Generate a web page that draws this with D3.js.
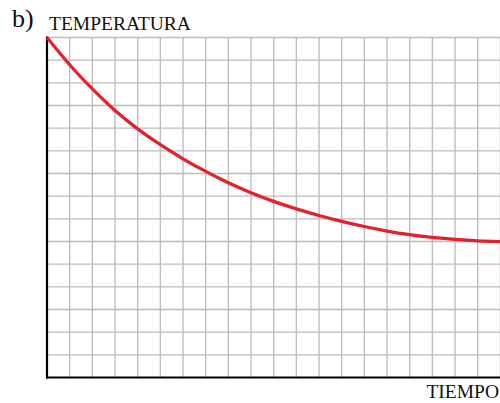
<!DOCTYPE html>
<html>
<head>
<meta charset="utf-8">
<script src="https://cdn.jsdelivr.net/npm/d3@7"></script>
<style>
  html, body { margin: 0; padding: 0; background: #fff; }
  svg { display: block; }
  text { font-family: "Liberation Serif", "DejaVu Serif", serif; fill: #111; }
</style>
</head>
<body>
<svg id="chart" width="500" height="403"></svg>
<script>
// Time in grid units (0–20) and temperature in grid units (0–15)
const tiempo = [0, 1, 2, 3, 4, 5, 6, 7, 8, 9, 10, 11, 12, 13, 14, 15, 16, 17, 18, 19, 20];
const temperatura = [15, 13.8, 12.73, 11.78, 10.97, 10.27, 9.65, 9.09, 8.59, 8.15, 7.77, 7.44, 7.15, 6.89, 6.66, 6.46, 6.30, 6.18, 6.09, 6.03, 6.0];
const gridCols = d3.range(0, 21);
const gridRows = d3.range(0, 16);

const svg = d3.select("#chart");
const x = d3.scaleLinear().domain([0, 20]).range([47, 500.4]);
const y = d3.scaleLinear().domain([0, 15]).range([377.5, 37.5]);

// grid
const grid = svg.append("g").attr("stroke", "#bdbdbd").attr("stroke-width", 1.4);
grid.selectAll("line.v").data(gridCols.slice(1)).join("line")
  .attr("class", "v")
  .attr("x1", d => x(d)).attr("x2", d => x(d))
  .attr("y1", y(15)).attr("y2", y(0));
grid.selectAll("line.h").data(gridRows.slice(1)).join("line")
  .attr("class", "h")
  .attr("x1", x(0)).attr("x2", x(20))
  .attr("y1", d => y(d)).attr("y2", d => y(d));

// axes
svg.append("line").attr("x1", x(0)).attr("x2", x(0)).attr("y1", y(15) - 1).attr("y2", y(0) + 1)
  .attr("stroke", "#000").attr("stroke-width", 2.2);
svg.append("line").attr("x1", x(0) - 1).attr("x2", 500).attr("y1", y(0)).attr("y2", y(0))
  .attr("stroke", "#000").attr("stroke-width", 2.2);

// cooling curve
const line = d3.line()
  .x((d, i) => x(tiempo[i]))
  .y(d => y(d))
  .curve(d3.curveNatural);
svg.append("path").datum(temperatura)
  .attr("d", line)
  .attr("fill", "none")
  .attr("stroke", "#e6202a")
  .attr("stroke-width", 3.2);

// labels
svg.append("text").attr("x", 12).attr("y", 27).attr("font-size", 26).text("b)");
svg.append("text").attr("x", 49).attr("y", 30).attr("font-size", 19.5).text("TEMPERATURA");
svg.append("text").attr("x", 499).attr("y", 398).attr("font-size", 19.5)
  .attr("text-anchor", "end").text("TIEMPO");
</script>
</body>
</html>
